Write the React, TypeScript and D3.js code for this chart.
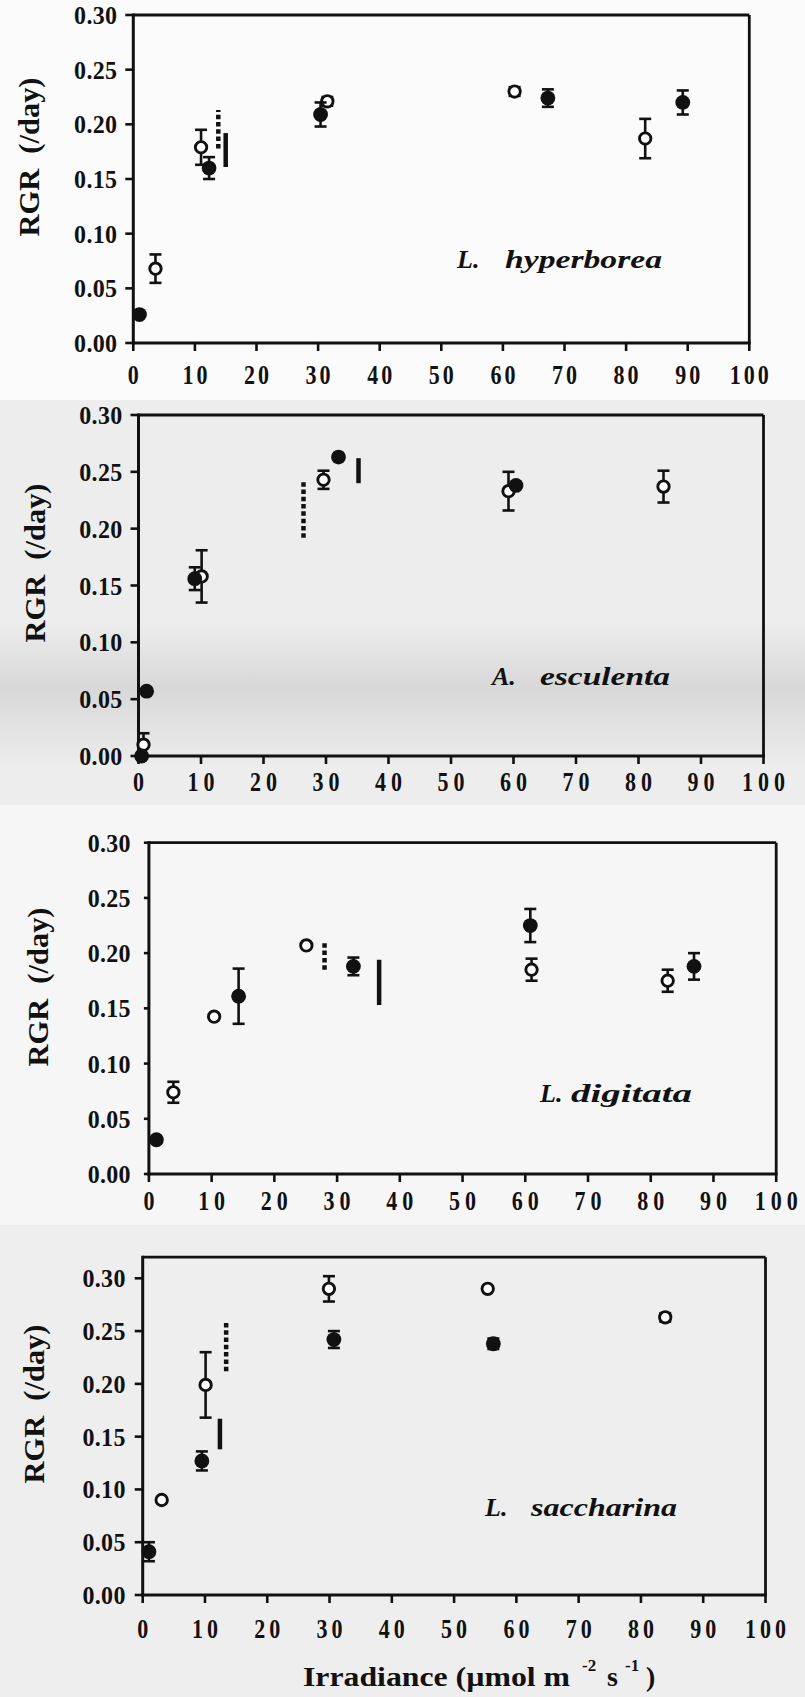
import * as d3 from "d3";
import React from "react";

// tick values shared by all four panels
const xTicks = [0, 10, 20, 30, 40, 50, 60, 70, 80, 90, 100];
const yTicks = [0, 0.05, 0.1, 0.15, 0.2, 0.25, 0.3];
const yTickLabels = ["0.00", "0.05", "0.10", "0.15", "0.20", "0.25", "0.30"];

// L. hyperborea  (x = irradiance, y = RGR, e = error bar half length)
const hypFilled = [
  { x: 1.0, y: 0.026, e: 0 },
  { x: 12.3, y: 0.16, e: 0.01 },
  { x: 30.4, y: 0.209, e: 0.011 },
  { x: 67.3, y: 0.224, e: 0.008 },
  { x: 89.2, y: 0.22, e: 0.011 },
];
const hypOpen = [
  { x: 3.6, y: 0.068, e: 0.013 },
  { x: 11.0, y: 0.179, e: 0.016 },
  { x: 31.5, y: 0.221, e: 0.004 },
  { x: 61.9, y: 0.23, e: 0.004 },
  { x: 83.1, y: 0.187, e: 0.018 },
];
// vertical marks: [x, low, high]
const hypDashed = [13.8, 0.178, 0.213];
const hypSolid = [15.0, 0.161, 0.192];

// A. esculenta
const escFilled = [
  { x: 0.5, y: 0.0, e: 0 },
  { x: 1.3, y: 0.057, e: 0 },
  { x: 9.0, y: 0.156, e: 0.01 },
  { x: 32.0, y: 0.263, e: 0 },
  { x: 60.4, y: 0.238, e: 0 },
];
const escOpen = [
  { x: 0.8, y: 0.01, e: 0.01 },
  { x: 10.1, y: 0.158, e: 0.023 },
  { x: 29.6, y: 0.243, e: 0.008 },
  { x: 59.2, y: 0.233, e: 0.017 },
  { x: 84.0, y: 0.237, e: 0.014 },
];
const escDashed = [26.4, 0.192, 0.243];
const escSolid = [35.2, 0.24, 0.262];

// L. digitata
const digFilled = [
  { x: 1.2, y: 0.031, e: 0 },
  { x: 14.3, y: 0.161, e: 0.025 },
  { x: 32.6, y: 0.188, e: 0.008 },
  { x: 60.8, y: 0.225, e: 0.015 },
  { x: 86.9, y: 0.188, e: 0.012 },
];
const digOpen = [
  { x: 3.9, y: 0.074, e: 0.0095 },
  { x: 10.4, y: 0.1425, e: 0 },
  { x: 25.1, y: 0.207, e: 0 },
  { x: 61.0, y: 0.185, e: 0.01 },
  { x: 82.7, y: 0.175, e: 0.01 },
];
const digDashed = [28.0, 0.185, 0.209];
const digSolid = [36.7, 0.153, 0.194];

// L. saccharina
const sacFilled = [
  { x: 1.0, y: 0.041, e: 0.009 },
  { x: 9.5, y: 0.127, e: 0.009 },
  { x: 30.7, y: 0.242, e: 0.008 },
  { x: 56.3, y: 0.238, e: 0.005 },
];
const sacOpen = [
  { x: 3.05, y: 0.09, e: 0 },
  { x: 10.1, y: 0.199, e: 0.031 },
  { x: 29.9, y: 0.29, e: 0.012 },
  { x: 55.4, y: 0.29, e: 0 },
  { x: 83.9, y: 0.263, e: 0.004 },
];
const sacDashed = [13.4, 0.212, 0.259];
const sacSolid = [12.4, 0.138, 0.167];

const FONT = "Liberation Serif, Times New Roman, Times, serif";
const INK = "#111";

// panel frames (pixels), kept apart from the data
const frames = [
  { x0: 133.3, x1: 749.3, yB: 343, y30: 15, top: 0.3, tick: 8, yLabGap: 16, xLabDy: 41, ls: 3,
    gx: 457, sx: 505, sw: 157, ly: 268, titleX: 39, titleY: 157 },
  { x0: 138.5, x1: 763.5, yB: 756, y30: 415, top: 0.3, tick: 8, yLabGap: 16, xLabDy: 35, ls: 5,
    gx: 492, sx: 540, sw: 130, ly: 685, titleX: 45, titleY: 563 },
  { x0: 148.9, x1: 776.2, yB: 1174, y30: 842.7, top: 0.3, tick: 5, yLabGap: 18, xLabDy: 36, ls: 5,
    gx: 540, sx: 571, sw: 121, ly: 1102, titleX: 48, titleY: 987 },
  { x0: 142.7, x1: 765.5, yB: 1595, y30: 1278.3, top: 0.32, tick: 8, yLabGap: 17, xLabDy: 43, ls: 4,
    gx: 485, sx: 531, sw: 146, ly: 1516, titleX: 44, titleY: 1404 },
];

const panelData = [
  { filled: hypFilled, open: hypOpen, dashed: hypDashed, solid: hypSolid, genus: "L.", species: "hyperborea" },
  { filled: escFilled, open: escOpen, dashed: escDashed, solid: escSolid, genus: "A.", species: "esculenta" },
  { filled: digFilled, open: digOpen, dashed: digDashed, solid: digSolid, genus: "L.", species: "digitata" },
  { filled: sacFilled, open: sacOpen, dashed: sacDashed, solid: sacSolid, genus: "L.", species: "saccharina" },
];

function ErrBar({ cx, lo, hi }) {
  return (
    <g stroke={INK} strokeWidth={2.6}>
      <line x1={cx} x2={cx} y1={lo} y2={hi} />
      <line x1={cx - 6} x2={cx + 6} y1={lo} y2={lo} />
      <line x1={cx - 6} x2={cx + 6} y1={hi} y2={hi} />
    </g>
  );
}

function Panel({ d, f }) {
  const x = d3.scaleLinear().domain([0, 100]).range([f.x0, f.x1]);
  const y = d3.scaleLinear().domain([0, 0.3]).range([f.yB, f.y30]);
  const yTop = y(f.top);

  return (
    <g>
      {/* frame */}
      <g stroke={INK} fill="none">
        <line x1={x(0)} x2={x(100)} y1={yTop} y2={yTop} strokeWidth={2.8} />
        <line x1={x(100)} x2={x(100)} y1={yTop} y2={y(0)} strokeWidth={2.8} />
        <line x1={x(0)} x2={x(0)} y1={yTop - 1.4} y2={y(0) + 1.5} strokeWidth={3} />
        <line x1={x(0) - 1.5} x2={x(100) + 1.4} y1={y(0)} y2={y(0)} strokeWidth={3} />
      </g>

      {/* y axis ticks */}
      {yTicks.map((t, i) => (
        <g key={"y" + i}>
          <line x1={x(0) - f.tick} x2={x(0)} y1={y(t)} y2={y(t)} stroke={INK} strokeWidth={2.6} />
          <text transform={`translate(${x(0) - f.yLabGap},${y(t) + 9}) scale(1,1.08)`} fontFamily={FONT}
            fontWeight="bold" fontSize={24} textAnchor="end" fill={INK} letterSpacing={0.3}>
            {yTickLabels[i]}
          </text>
        </g>
      ))}

      {/* x axis ticks */}
      {xTicks.map((t, i) => (
        <g key={"x" + i}>
          <line x1={x(t)} x2={x(t)} y1={y(0)} y2={y(0) + 8} stroke={INK} strokeWidth={2.6} />
          <text transform={`translate(${x(t) + f.ls / 2},${y(0) + f.xLabDy}) scale(1,1.28)`}
            fontFamily={FONT} fontWeight="bold" fontSize={22} textAnchor="middle" fill={INK}
            letterSpacing={f.ls}>
            {t}
          </text>
        </g>
      ))}

      {/* irradiance marks */}
      <line x1={x(d.dashed[0])} x2={x(d.dashed[0])} y1={y(d.dashed[1])} y2={y(d.dashed[2])}
        stroke={INK} strokeWidth={4.5} strokeDasharray="4.5 2.8" />
      <line x1={x(d.solid[0])} x2={x(d.solid[0])} y1={y(d.solid[1])} y2={y(d.solid[2])}
        stroke={INK} strokeWidth={4.5} />

      {/* open circles */}
      {d.open.map((p, i) => (
        <g key={"o" + i}>
          {p.e > 0 && <ErrBar cx={x(p.x)} lo={y(p.y - p.e)} hi={y(p.y + p.e)} />}
          <circle cx={x(p.x)} cy={y(p.y)} r={5.7} fill="#fff" stroke={INK} strokeWidth={2.9} />
        </g>
      ))}

      {/* filled circles */}
      {d.filled.map((p, i) => (
        <g key={"f" + i}>
          {p.e > 0 && <ErrBar cx={x(p.x)} lo={y(p.y - p.e)} hi={y(p.y + p.e)} />}
          <circle cx={x(p.x)} cy={y(p.y)} r={7.4} fill={INK} />
        </g>
      ))}

      {/* species label */}
      <text x={f.gx} y={f.ly} fontFamily={FONT} fontWeight="bold" fontStyle="italic" fontSize={26} fill={INK}>
        {d.genus}
      </text>
      <text x={f.sx} y={f.ly} fontFamily={FONT} fontWeight="bold" fontStyle="italic" fontSize={26} fill={INK}
        textLength={f.sw} lengthAdjust="spacingAndGlyphs">
        {d.species}
      </text>

      {/* y title */}
      <text transform={`translate(${f.titleX},${f.titleY}) rotate(-90)`} fontFamily={FONT} fontWeight="bold"
        fontSize={30} textAnchor="middle" fill={INK} textLength={159} lengthAdjust="spacingAndGlyphs">
        RGR{"\u00a0\u00a0"}(/day)
      </text>
    </g>
  );
}

export default function App() {
  return (
    <svg width={805} height={1697} viewBox="0 0 805 1697"
      style={{ position: "absolute", left: 0, top: 0, display: "block" }}>
      <defs>
        <linearGradient id="band" x1={0} x2={0} y1={0} y2={1}>
          <stop offset="0%" stopColor="#ececec" />
          <stop offset="45%" stopColor="#d8d8d8" />
          <stop offset="100%" stopColor="#ececec" />
        </linearGradient>
      </defs>
      {/* scanned page tones */}
      <rect x={0} y={0} width={805} height={400} fill="#fbfbfb" />
      <rect x={0} y={400} width={805} height={405} fill="#ededed" />
      <rect x={0} y={625} width={805} height={140} fill="url(#band)" />
      <rect x={0} y={805} width={805} height={420} fill="#f6f6f6" />
      <rect x={0} y={1225} width={805} height={472} fill="#eeeeee" />

      {panelData.map((d, i) => (
        <Panel key={i} d={d} f={frames[i]} />
      ))}

      {/* x title */}
      <g fontFamily={FONT} fontWeight="bold" fill={INK}>
        <text x={303} y={1686} fontSize={28} textLength={267} lengthAdjust="spacingAndGlyphs">
          Irradiance (µmol m
        </text>
        <text x={582} y={1671} fontSize={17}>-2</text>
        <text x={607} y={1686} fontSize={28}>s</text>
        <text x={625} y={1671} fontSize={17}>-1</text>
        <text x={646} y={1686} fontSize={28}>)</text>
      </g>
    </svg>
  );
}
